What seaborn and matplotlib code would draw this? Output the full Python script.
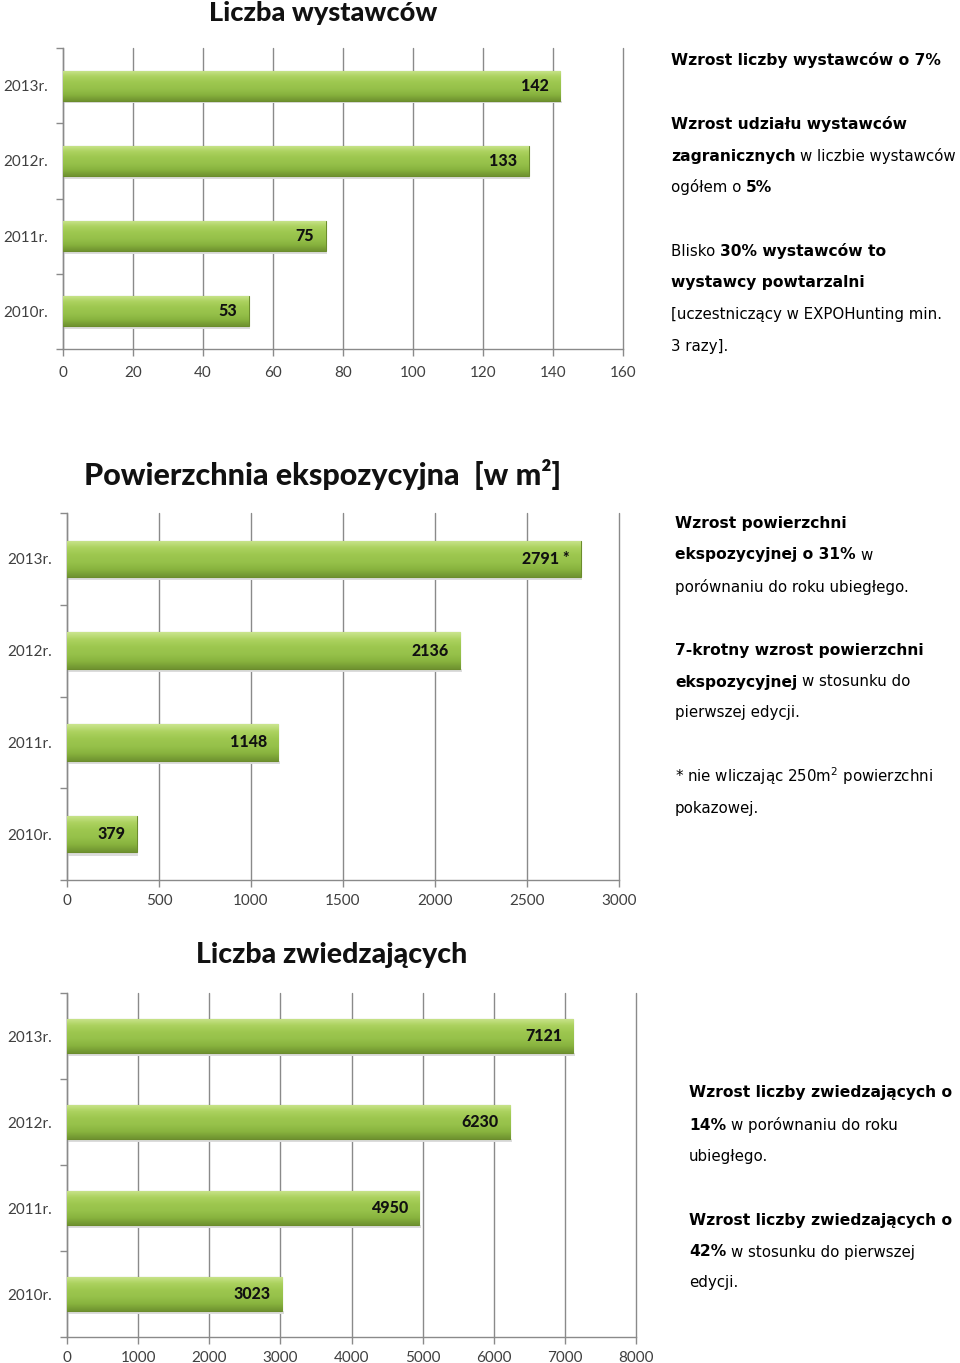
import numpy as np
import pandas as pd
import seaborn as sns
import matplotlib.pyplot as plt
from matplotlib.colors import LinearSegmentedColormap

# dane z wykresów
lata = ['2013r.', '2012r.', '2011r.', '2010r.']
wystawcy = [142, 133, 75, 53]
powierzchnia = [2791, 2136, 1148, 379]
zwiedzajacy = [7121, 6230, 4950, 3023]
etykiety_pow = ['2791 *', '2136', '1148', '379']

W, H = 960, 1363

sns.set_theme(style='white')
plt.rcParams['font.family'] = ['Lato', 'DejaVu Sans']

fig = plt.figure(figsize=(W / 100, H / 100), dpi=100)
fig.patch.set_facecolor('white')

green = LinearSegmentedColormap.from_list(
    'zielony', ['#cbe58f', '#acd25f', '#9dc74f', '#96c14a', '#88b33e', '#6f9330'])


def px_axes(left, top, right, bottom):
    return fig.add_axes([left / W, 1 - bottom / H, (right - left) / W, (bottom - top) / H])


def draw_chart(ax, values, labels, xmax, step, xpad):
    df = pd.DataFrame({'rok': lata, 'wartosc': values})
    sns.barplot(data=df, x='wartosc', y='rok', orient='h', ax=ax, width=0.4,
                color='#9bc34b', edgecolor='#6b8c2c', linewidth=0.8, zorder=3)
    ax.set_xlim(0, xmax)
    ax.set_ylim(3.5, -0.5)
    xl, yl = ax.get_xlim(), ax.get_ylim()
    grad = np.linspace(0, 1, 64).reshape(-1, 1)
    for p, lab in zip(ax.patches, labels):
        x0, y0 = p.get_x(), p.get_y()
        x1, y1 = x0 + p.get_width(), y0 + p.get_height()
        # delikatny cień pod słupkiem
        ax.fill_between([x0, x1 + xmax * 0.003], y1, y1 + 0.035,
                        color='#dcdcdc', zorder=2, linewidth=0)
        im = ax.imshow(grad, cmap=green, aspect='auto', extent=(x0, x1, y1, y0),
                       zorder=3.5, interpolation='bicubic')
        im.set_clip_path(p)
        ax.annotate(lab, (x1, y0 + p.get_height() / 2), xytext=(-8, 0),
                    textcoords='offset points', ha='right', va='center',
                    fontsize=11.5, fontweight='black', color='#111111', zorder=5)
    ax.set_xlim(xl)
    ax.set_ylim(yl)
    ax.set_xticks(np.arange(0, xmax + 1, step))
    ax.set_yticks(range(4))
    ax.set_yticks(np.arange(-0.5, 4, 1), minor=True)
    ax.set_xlabel('')
    ax.set_ylabel('')
    ax.grid(axis='x', color='#8a8a8a', linewidth=1.0, zorder=0)
    ax.grid(axis='y', visible=False)
    for line in ax.get_xgridlines():
        line.set_clip_on(False)
    for s in ['top', 'right']:
        ax.spines[s].set_visible(False)
    for s in ['left', 'bottom']:
        ax.spines[s].set_color('#8a8a8a')
        ax.spines[s].set_linewidth(1.0)
    ax.tick_params(axis='x', which='major', bottom=True, length=5, width=1,
                   color='#8a8a8a', labelsize=11, labelcolor='#404040', pad=xpad)
    ax.tick_params(axis='y', which='major', left=False, length=0,
                   labelsize=11, labelcolor='#404040', pad=11)
    ax.tick_params(axis='y', which='minor', left=True, length=5, width=1,
                   color='#8a8a8a')


ax1 = px_axes(63, 48, 623, 349)
draw_chart(ax1, wystawcy, [str(v) for v in wystawcy], 160, 20, 7)
ax2 = px_axes(67, 513, 619, 880)
draw_chart(ax2, powierzchnia, etykiety_pow, 3000, 500, 5)
ax3 = px_axes(67, 993, 636, 1337)
draw_chart(ax3, zwiedzajacy, [str(v) for v in zwiedzajacy], 8000, 1000, 5)

# tytuły
fig.text(323 / W, 1 - 13 / H, 'Liczba wystawców', ha='center', va='center',
         fontsize=19.5, fontweight='black', color='#111111')
fig.text(323 / W, 1 - 475 / H, 'Powierzchnia ekspozycyjna  [w m²]', ha='center',
         va='center', fontsize=22, fontweight='black', color='#111111')
fig.text(332 / W, 1 - 955 / H, 'Liczba zwiedzających', ha='center', va='center',
         fontsize=20.5, fontweight='black', color='#111111')

# teksty opisowe
B, N = True, False
opis1 = [
    (60, [('Wzrost liczby wystawców o 7%', B)]),
    (124, [('Wzrost udziału wystawców', B)]),
    (156, [('zagranicznych', B), (' w liczbie wystawców', N)]),
    (187, [('ogółem o ', N), ('5%', B)]),
    (251, [('Blisko ', N), ('30% wystawców to', B)]),
    (282, [('wystawcy powtarzalni', B)]),
    (314, [('[uczestniczący w EXPOHunting min.', N)]),
    (346, [('3 razy].', N)]),
]
opis2 = [
    (523, [('Wzrost powierzchni', B)]),
    (555, [('ekspozycyjnej o 31%', B), (' w', N)]),
    (587, [('porównaniu do roku ubiegłego.', N)]),
    (650, [('7-krotny wzrost powierzchni', B)]),
    (682, [('ekspozycyjnej', B), (' w stosunku do', N)]),
    (713, [('pierwszej edycji.', N)]),
    (776, [('* nie wliczając 250m$^{2}$ powierzchni', N)]),
    (808, [('pokazowej.', N)]),
]
opis3 = [
    (1093, [('Wzrost liczby zwiedzających o', B)]),
    (1125, [('14%', B), (' w porównaniu do roku', N)]),
    (1157, [('ubiegłego.', N)]),
    (1220, [('Wzrost liczby zwiedzających o', B)]),
    (1252, [('42%', B), (' w stosunku do pierwszej', N)]),
    (1283, [('edycji.', N)]),
]

renderer = fig.canvas.get_renderer()


def rich_text(x_px, lines, size=10.8, bold_size=11.2):
    sp = fig.text(0, 0, 'a a', fontsize=size, family='DejaVu Sans')
    sp2 = fig.text(0, 0, 'aa', fontsize=size, family='DejaVu Sans')
    space_w = sp.get_window_extent(renderer).width - sp2.get_window_extent(renderer).width
    sp.remove()
    sp2.remove()
    for y_px, segs in lines:
        cx = x_px
        for txt, bold in segs:
            lead = len(txt) - len(txt.lstrip(' '))
            cx += space_w * lead
            t = fig.text(cx / W, 1 - y_px / H, txt.lstrip(' '),
                         fontsize=bold_size if bold else size,
                         fontweight='bold' if bold else 'normal', ha='left',
                         va='center', family='DejaVu Sans', color='black')
            cx += t.get_window_extent(renderer).width


rich_text(671, opis1)
rich_text(675, opis2)
rich_text(689, opis3)

fig.savefig('out.png', dpi=100, facecolor='white')
